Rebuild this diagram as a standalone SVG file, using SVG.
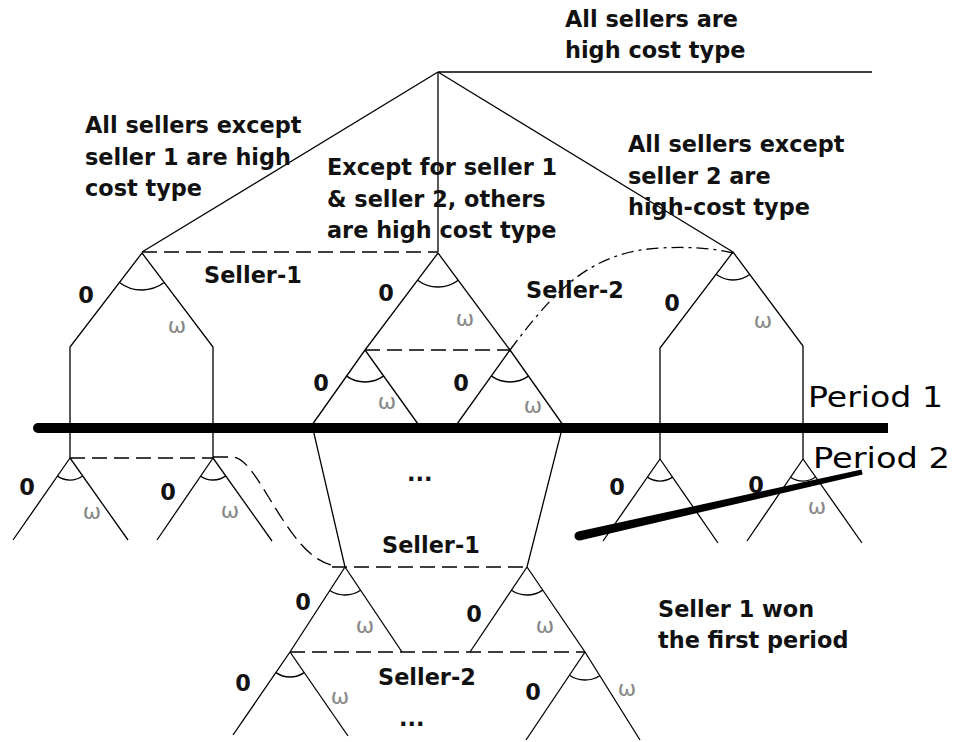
<svg xmlns="http://www.w3.org/2000/svg" width="953" height="742" viewBox="0 0 953 742">
<style>
.e{stroke:#000;stroke-width:1.3;fill:none}
.d{stroke:#000;stroke-width:1.3;fill:none;stroke-dasharray:15 7}
.dd{stroke:#000;stroke-width:1.3;fill:none;stroke-dasharray:12 5 3 5}
.a{stroke:#000;stroke-width:1.3;fill:none}
.t{font-family:"DejaVu Sans","Verdana",sans-serif;font-weight:bold;font-size:22.4px;fill:#111}
.z{font-family:"DejaVu Sans","Verdana",sans-serif;font-weight:bold;font-size:22.4px;fill:#111;text-anchor:middle}
.w{font-family:"DejaVu Sans",sans-serif;font-size:22px;fill:#888;text-anchor:middle}
.p{font-family:"DejaVu Sans",sans-serif;font-size:28px;fill:#000}
</style>
<rect width="953" height="742" fill="#fff"/>
<g id="connectors">
<line class="e" x1="438" y1="72" x2="872" y2="72"/>
<line class="e" x1="438" y1="72" x2="142" y2="252"/>
<line class="e" x1="438" y1="72" x2="438" y2="252"/>
<line class="e" x1="438" y1="72" x2="733" y2="252"/>
<line class="d" x1="142" y1="252" x2="438" y2="252"/>
<polyline class="e" points="142,253 70,347 70,458"/>
<polyline class="e" points="142,253 213,347 213,458"/>
<line class="e" x1="438" y1="253" x2="365" y2="350"/>
<line class="e" x1="438" y1="253" x2="510" y2="350"/>
<line class="d" x1="365" y1="350" x2="510" y2="350"/>
<polyline class="e" points="365,350 312,425 345,567"/>
<line class="e" x1="365" y1="350" x2="418" y2="424"/>
<line class="e" x1="510" y1="350" x2="457" y2="424"/>
<polyline class="e" points="510,350 563,425 527,567"/>
<path class="dd" d="M510,350 C555,290 590,252 660,248 C700,246 720,250 733,253"/>
<polyline class="e" points="733,252 660,348 660,459"/>
<polyline class="e" points="733,252 803,346 803,459"/>
<line class="d" x1="70" y1="458" x2="213" y2="458"/>
<path class="d" d="M213,457 L233,457 C248,458 262,488 283,520 C300,546 315,562 335,566"/>
<line class="e" x1="70" y1="458" x2="13" y2="540"/>
<line class="e" x1="70" y1="458" x2="128" y2="540"/>
<line class="e" x1="213" y1="458" x2="157" y2="540"/>
<line class="e" x1="213" y1="458" x2="272" y2="541"/>
<line class="e" x1="660" y1="459" x2="603" y2="541"/>
<line class="e" x1="660" y1="459" x2="718" y2="543"/>
<line class="e" x1="803" y1="459" x2="747" y2="541"/>
<line class="e" x1="803" y1="459" x2="862" y2="543"/>
<line class="d" x1="332" y1="567" x2="527" y2="567"/>
<polyline class="e" points="345,567 290,652 233,735"/>
<line class="e" x1="345" y1="567" x2="402" y2="652"/>
<line class="e" x1="527" y1="567" x2="470" y2="652"/>
<polyline class="e" points="527,567 585,652 640,740"/>
<line class="d" x1="290" y1="652" x2="585" y2="652"/>
<line class="e" x1="290" y1="652" x2="348" y2="736"/>
<line class="e" x1="585" y1="652" x2="526" y2="740"/>
</g>
<g id="period1">
<line x1="38" y1="428" x2="888" y2="428" stroke="#000" stroke-width="10"/>
<circle cx="38" cy="428" r="5" fill="#000"/>
<text class="p" x="808" y="407" textLength="135" lengthAdjust="spacingAndGlyphs">Period 1</text>
</g>
<g id="labels">
<text class="t" x="565" y="27">All sellers are</text>
<text class="t" x="565" y="58">high cost type</text>
<text class="t" x="85" y="133">All sellers except</text>
<text class="t" x="85" y="165">seller 1 are high</text>
<text class="t" x="85" y="196">cost type</text>
<text class="t" x="327" y="175">Except for seller 1</text>
<text class="t" x="327" y="207">&amp; seller 2, others</text>
<text class="t" x="327" y="238">are high cost type</text>
<text class="t" x="628" y="152">All sellers except</text>
<text class="t" x="628" y="184">seller 2 are</text>
<text class="t" x="628" y="215">high-cost type</text>
<text class="t" x="204" y="283">Seller-1</text>
<text class="t" x="526" y="298">Seller-2</text>
<text class="t" x="382" y="553">Seller-1</text>
<text class="t" x="378" y="685">Seller-2</text>
<text class="t" x="407" y="481">...</text>
<text class="t" x="399" y="726">...</text>
<text class="t" x="658" y="617">Seller 1 won</text>
<text class="t" x="658" y="648">the first period</text>
</g>
<g id="node-L1">
<path class="a" d="M119.5,282.4 A37,37 0 0 0 164.2,282.6"/>
<text class="z" x="86" y="303">0</text>
<text class="w" x="177" y="333">ω</text>
</g>
<g id="node-C1">
<path class="a" d="M417.6,280.2 A34,34 0 0 0 458.3,280.3"/>
<text class="z" x="386" y="301">0</text>
<text class="w" x="465" y="326">ω</text>
</g>
<g id="node-C1L">
<path class="a" d="M346.2,375.9 A32,32 0 0 0 383.8,375.9"/>
<text class="z" x="321" y="391">0</text>
<text class="w" x="387" y="409">ω</text>
</g>
<g id="node-C1R">
<path class="a" d="M491.2,375.9 A32,32 0 0 0 528.8,375.9"/>
<text class="z" x="461" y="391">0</text>
<text class="w" x="533" y="413">ω</text>
</g>
<g id="node-R1">
<path class="a" d="M716.1,274.3 A28,28 0 0 0 749.7,274.5"/>
<text class="z" x="672" y="311">0</text>
<text class="w" x="763" y="328">ω</text>
</g>
<g id="node-LL1">
<path class="a" d="M57.4,476.1 A22,22 0 0 0 82.7,476"/>
<text class="z" x="27" y="495">0</text>
<text class="w" x="92" y="519">ω</text>
</g>
<g id="node-LL2">
<path class="a" d="M200.6,476.2 A22,22 0 0 0 225.8,475.9"/>
<text class="z" x="168" y="500">0</text>
<text class="w" x="230" y="518">ω</text>
</g>
<g id="node-R2">
<path class="a" d="M647.4,477.1 A22,22 0 0 0 672.5,477.1"/>
<text class="z" x="617" y="495">0</text>
</g>
<g id="node-R3">
<path class="a" d="M790.6,477.2 A22,22 0 0 0 815.7,477"/>
<text class="z" x="756" y="493">0</text>
<text class="w" x="817" y="514">ω</text>
</g>
<g id="node-B1">
<path class="a" d="M329.8,590.5 A28,28 0 0 0 360.6,590.3"/>
<text class="z" x="303" y="610">0</text>
<text class="w" x="365" y="633">ω</text>
</g>
<g id="node-B2">
<path class="a" d="M511.4,590.3 A28,28 0 0 0 542.8,590.1"/>
<text class="z" x="474" y="622">0</text>
<text class="w" x="545" y="633">ω</text>
</g>
<g id="node-B1L">
<path class="a" d="M275.9,672.6 A25,25 0 0 0 304.2,672.6"/>
<text class="z" x="243" y="691">0</text>
<text class="w" x="340" y="704">ω</text>
</g>
<g id="node-B2R">
<path class="a" d="M569.4,675.3 A28,28 0 0 0 599.8,675.7"/>
<text class="z" x="533" y="700">0</text>
<text class="w" x="627" y="696">ω</text>
</g>
<g id="period2">
<path d="M578,531.6 L861.5,469.5 L862.6,474.4 L580,540.4 A4.5,4.5 0 0 1 578,531.6 Z" fill="#000"/>
<text class="p" x="813" y="468" textLength="137" lengthAdjust="spacingAndGlyphs">Period 2</text>
</g>
</svg>
